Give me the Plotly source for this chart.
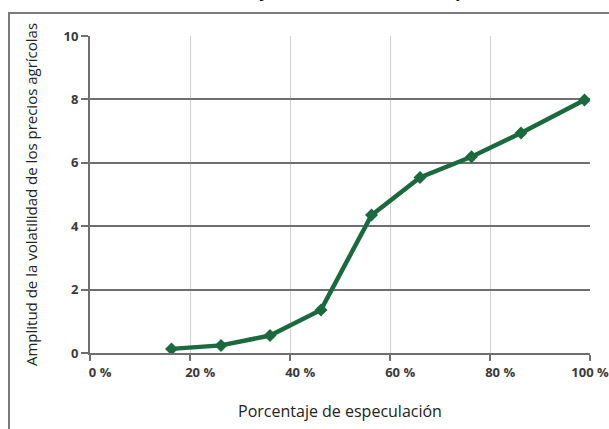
import plotly.graph_objects as go

# datos
especulacion = [16.3, 26.2, 36.0, 46.2, 56.3, 66.0, 76.3, 86.2, 98.9]
amplitud = [0.13, 0.24, 0.55, 1.36, 4.35, 5.54, 6.19, 6.94, 7.98]

x_ticks = [0, 20, 40, 60, 80, 100]
# espacios duros delante: las etiquetas van corridas a la derecha de la marca
NB = "\u00a0"
x_tick_labels = [NB * 6 + "0 %", NB * 6 + "20 %", NB * 6 + "40 %",
                 NB * 6 + "60 %", NB * 6 + "80 %", "100 %"]
y_ticks = [0, 2, 4, 6, 8, 10]

VERDE = "#1a6a3e"
GRIS_OSCURO = "#6f6f6f"
GRIS_CLARO = "#cfcfcf"
TEXTO = "#3a3a3a"
FUENTE = "Open Sans, sans-serif"

fig = go.Figure()

fig.add_trace(go.Scatter(
    x=especulacion, y=amplitud,
    mode="lines+markers",
    line=dict(color=VERDE, width=4.5),
    marker=dict(symbol="diamond", size=10, color=VERDE),
    showlegend=False,
))

fig.update_layout(
    width=609, height=429,
    paper_bgcolor="white",
    plot_bgcolor="white",
    margin=dict(l=90, r=19, t=36, b=76, autoexpand=False),
    font=dict(family=FUENTE, color=TEXTO),
    shapes=[
        # marco gris del recuadro
        dict(type="rect", xref="paper", yref="paper",
             x0=-0.162, x1=1.1, y0=-0.3, y1=1.0726,
             line=dict(color="#7a7a7a", width=2), layer="below"),
    ],
    annotations=[
        # título cortado por el borde superior de la imagen
        dict(text="<b>Relación entre la volatilidad y la intensidad de la especulación</b>",
             xref="paper", yref="paper", x=0.385, y=1.105,
             xanchor="center", yanchor="bottom", showarrow=False,
             font=dict(family="Liberation Sans, Arial", size=18, color="#111")),
    ],
)

fig.update_xaxes(
    range=[0, 100],
    tickvals=x_ticks, ticktext=x_tick_labels,
    showgrid=True, gridcolor=GRIS_CLARO, gridwidth=1,
    zeroline=False, automargin=False,
    showline=True, linecolor=GRIS_OSCURO, linewidth=2,
    ticks="outside", ticklen=6, tickcolor=GRIS_OSCURO, tickwidth=2,
    ticklabeloverflow="allow",
    tickfont=dict(size=13, color=TEXTO, family=FUENTE, weight=700),
    title=dict(text="Porcentaje de especulación",
               font=dict(size=16, color="#222", family=FUENTE), standoff=26),
)

fig.update_yaxes(
    range=[0, 10],
    tickvals=y_ticks,
    showgrid=True, gridcolor=GRIS_OSCURO, gridwidth=1.5,
    zeroline=False, automargin=False,
    showline=True, linecolor=GRIS_OSCURO, linewidth=2,
    ticks="outside", ticklen=7, tickcolor=GRIS_OSCURO, tickwidth=2,
    tickfont=dict(size=13, color=TEXTO, family=FUENTE, weight=700),
    title=dict(text="Amplitud de la volatilidad de los precios agrícolas",
               font=dict(size=15, color="#222", family=FUENTE), standoff=22),
)

# sin margen del body para que la figura quede en la esquina de la ventana
fig.write_html("out.html", config={"displayModeBar": False},
               post_script="document.body.style.margin='0';")
